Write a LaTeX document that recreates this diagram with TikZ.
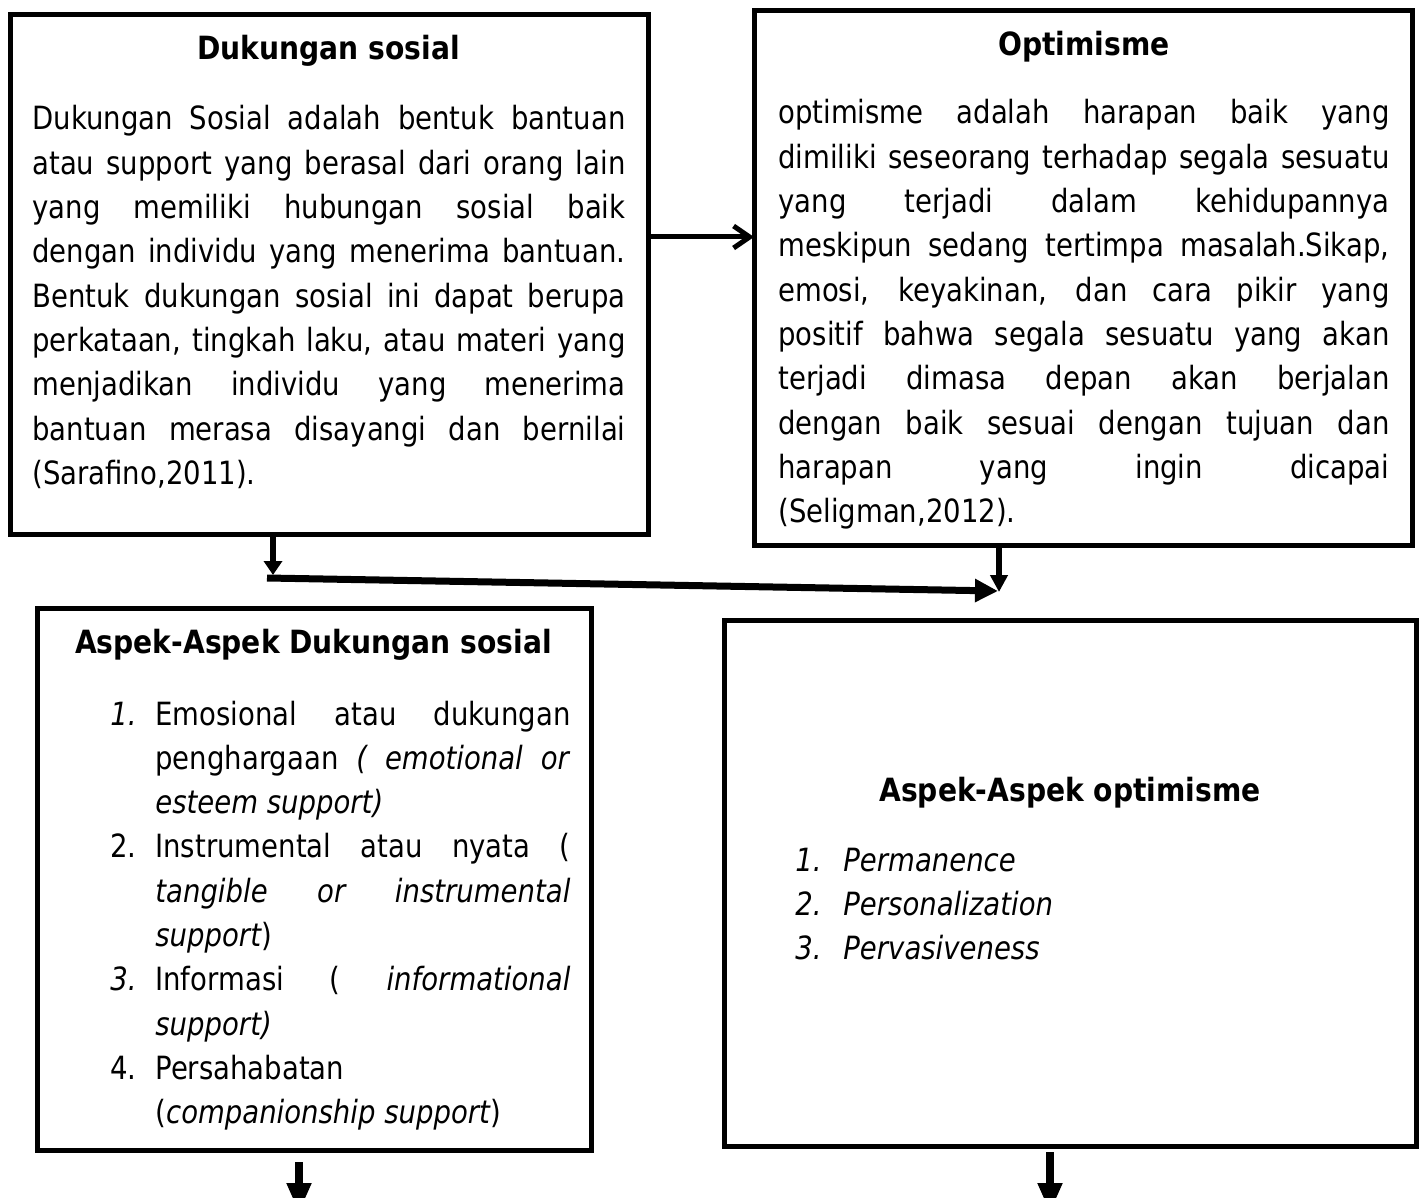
\documentclass[tikz,border=0pt]{standalone}
\usepackage{fontspec}
\setmainfont{DejaVu Sans}[FakeStretch=0.86,BoldFeatures={FakeStretch=0.88}]
\usetikzlibrary{arrows.meta,calc}
\newcommand\bodyfont{\fontsize{16pt}{22.15pt}\selectfont}
\newcommand\myJust[1]{\makebox[\linewidth][s]{#1}\par}
\newcommand\myLast[1]{\makebox[\linewidth][l]{#1}\par}
\newcommand\myNumW{22.5pt}
\newcommand\myItJ[2]{\hbox to\linewidth{\hbox to\myNumW{#1\hss}\hbox to\dimexpr\linewidth-\myNumW\relax{#2}}\par}
\newcommand\myItL[2]{\hbox to\linewidth{\hbox to\myNumW{#1\hss}#2\hfil}\par}
\begin{document}
\begin{tikzpicture}[x=0.5pt,y=-0.5pt,
  box/.style={draw, line width=2.5pt, inner sep=0pt, outer sep=0pt},
  ttl/.style={anchor=base, inner sep=0pt, font=\bodyfont\bfseries},
  txt/.style={anchor=base west, inner sep=0pt},
  barb/.style={line width=2.5pt, -{Straight Barb[length=8pt,width=11pt]}},
]
\useasboundingbox (0,0) rectangle (1419,1198);
% boxes
\node[box, minimum width=319pt, minimum height=259.5pt] (b1) at (329,274.5) {};
\node[box, minimum width=329pt, minimum height=267pt] (b2) at (1083,278) {};
\node[box, minimum width=277pt, minimum height=271pt] (b3) at (314,879) {};
\node[box, minimum width=346pt, minimum height=263pt] (b4) at (1070,883) {};
% titles
\node[ttl] (h1) at (328.5,60) {Dukungan sosial};
\node[ttl] (h2) at (1084,56) {Optimisme};
\node[ttl] (h3) at (313.5,653) {Aspek-Aspek Dukungan sosial};
\node[ttl] (h4) at (1070,801) {Aspek-Aspek optimisme};
% bodies
\node[txt] (t1) at (32,130) {\parbox[t]{296.5pt}{\bodyfont
\myJust{Dukungan Sosial adalah bentuk bantuan}
\myJust{atau support yang berasal dari orang lain}
\myJust{yang memiliki hubungan sosial baik}
\myJust{dengan individu yang menerima bantuan.}
\myJust{Bentuk dukungan sosial ini dapat berupa}
\myJust{perkataan, tingkah laku, atau materi yang}
\myJust{menjadikan individu yang menerima}
\myJust{bantuan merasa disayangi dan bernilai}
\myLast{(Sarafino,2011).}}};
\node[txt] (t2) at (778,124) {\parbox[t]{305.5pt}{\bodyfont
\myJust{optimisme adalah harapan baik yang}
\myJust{dimiliki seseorang terhadap segala sesuatu}
\myJust{yang terjadi dalam kehidupannya}
\myJust{meskipun sedang tertimpa masalah.Sikap,}
\myJust{emosi, keyakinan, dan cara pikir yang}
\myJust{positif bahwa segala sesuatu yang akan}
\myJust{terjadi dimasa depan akan berjalan}
\myJust{dengan baik sesuai dengan tujuan dan}
\myJust{harapan yang ingin dicapai}
\myLast{(Seligman,2012).}}};
\node[txt] (t3) at (110,725) {\parbox[t]{230pt}{\bodyfont
\myItJ{\textit{1.}}{Emosional atau dukungan}
\myItJ{}{penghargaan \textit{( emotional or}}
\myItL{}{\textit{esteem support)}}
\myItJ{2.}{Instrumental atau nyata (}
\myItJ{}{\textit{tangible or instrumental}}
\myItL{}{\textit{support})}
\myItJ{\textit{3.}}{Informasi ( \textit{informational}}
\myItL{}{\textit{support)}}
\myItL{4.}{Persahabatan}
\myItL{}{(\textit{companionship support})}}};
\node[txt] (t4) at (795,871) {\parbox[t]{252pt}{\bodyfont\itshape
\def\myNumW{24pt}%
\myItL{1.}{Permanence}
\myItL{2.}{Personalization}
\myItL{3.}{Pervasiveness}}};
% connectors
\coordinate (y1) at (0,237);
\draw[barb] (b1.east |- y1) -- (b2.west |- y1);
\coordinate (c2) at (273,575);
\draw[line width=3pt, -{Triangle[length=7pt,width=9pt]}] (c2 |- b1.south) -- (c2);
\coordinate (j1) at (267,578);
\coordinate (j2) at (998,591);
\draw[line width=3.5pt, -{Triangle[length=11.5pt,width=11pt]}] (j1) -- (j2);
\coordinate (c4) at (999,592);
\draw[line width=3pt, -{Triangle[length=8.5pt,width=8.5pt]}] (c4 |- b2.south) -- (c4);
\coordinate (c5) at (299,1213);
\draw[line width=4pt, -{Triangle[length=15pt,width=11.5pt]}] ($(c5 |- b3.south)+(0,12)$) -- (c5);
\coordinate (c6) at (1050,1213);
\draw[line width=4pt, -{Triangle[length=15pt,width=11.5pt]}] ($(c6 |- b4.south)+(0,6)$) -- (c6);
\end{tikzpicture}
\end{document}
